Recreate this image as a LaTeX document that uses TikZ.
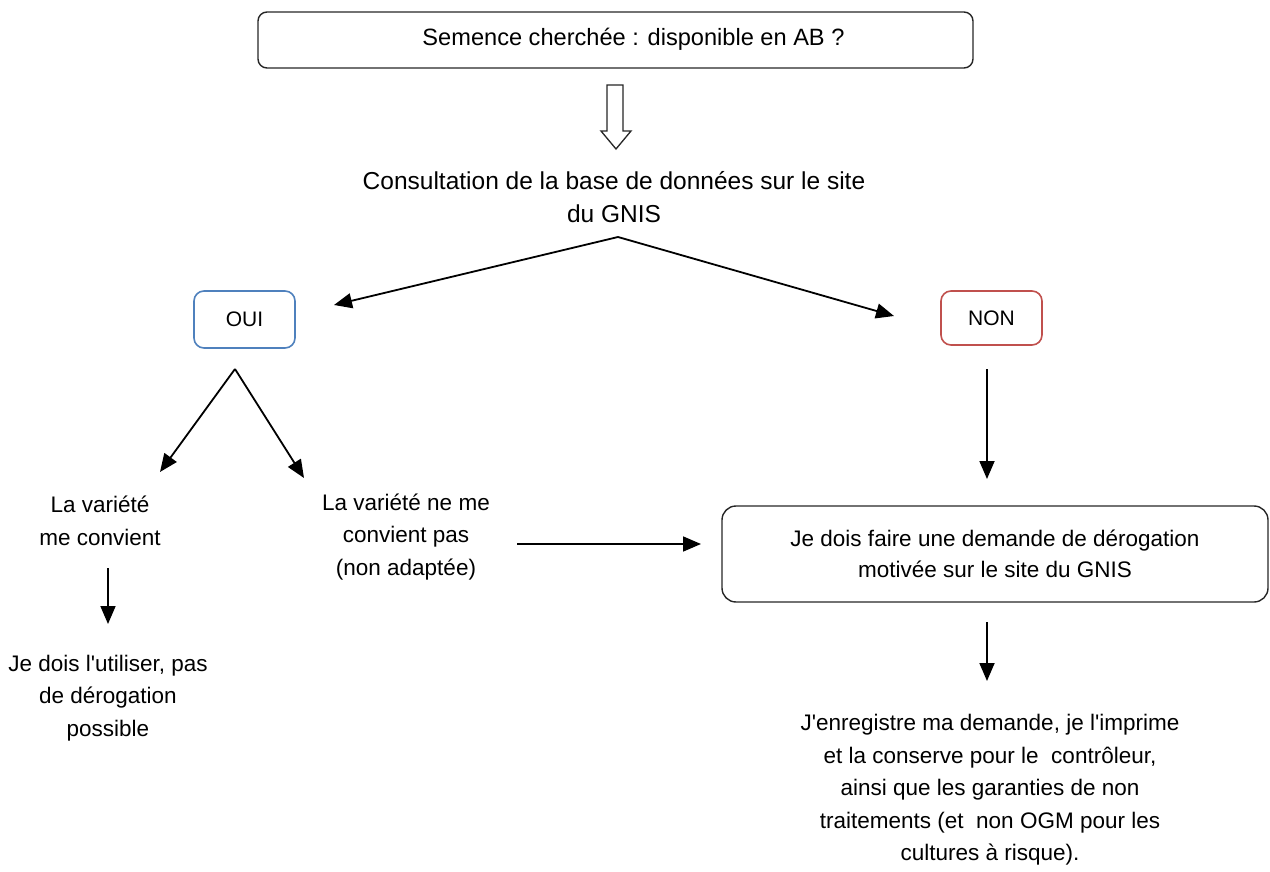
\documentclass[tikz,border=0pt]{standalone}
\usepackage{fontspec}
\setmainfont{Liberation Sans}
\usetikzlibrary{arrows.meta}
\definecolor{ouiblue}{HTML}{4F81BD}
\definecolor{nonred}{HTML}{C0504D}
\newcommand{\apos}{\textquotesingle}
\tikzset{
  txt/.style={align=center, inner sep=0pt, font=\fontsize{22.5}{32.5}\selectfont},
  bigtxt/.style={align=center, inner sep=0pt, font=\fontsize{24.5}{33}\selectfont},
  rbox/.style={draw=black!85, line width=1.4pt, rounded corners=9pt, align=center, inner sep=0pt, font=\fontsize{22.5}{31.5}\selectfont},
  smallbox/.style={line width=1.6pt, rounded corners=10pt, inner sep=0pt, font=\fontsize{21}{25}\selectfont},
  arr/.style={line width=1.8pt, -{Triangle[length=18pt,width=15pt]}},
  hollow/.style={draw=black!85, line width=1.3pt, fill=white}
}
\begin{document}
\begin{tikzpicture}[x=1pt,y=-1pt]
\useasboundingbox (0,0) rectangle (1270,872);

\node[rbox, minimum width=715pt, minimum height=56pt] (top) at (615.5,40) {};
\node[inner sep=0pt, font=\fontsize{23.6}{28}\selectfont] (toptext) at (633.5,39) {Semence cherchée : disponible en AB ?};
\node[bigtxt] (consult) at (614,197) {Consultation de la base de données sur le site\\du GNIS};

% hollow arrow
\draw[hollow] (607,85) -- (623,85) -- (623,131) -- (631,131) -- (616,149) -- (601,131) -- (607,131) -- cycle;

\node[smallbox, draw=ouiblue, minimum width=101pt, minimum height=57pt] (oui) at (244.5,319.5) {OUI};
\node[smallbox, draw=nonred, minimum width=101pt, minimum height=54pt] (non) at (991.5,318) {NON};

\coordinate (apex) at (618,237);
\coordinate (ouitip) at (334,305);
\coordinate (nontip) at (894,316);
\draw[arr] (apex) -- (ouitip);
\draw[arr] (apex) -- (nontip);

\node[txt] (var1) at (100,521) {La variété\\me convient};
\node[txt] (var2) at (406,537) {La variété ne me\\convient pas\\(non adaptée)};
\node[txt] (util) at (108,698) {Je dois l\apos utiliser, pas\\de dérogation\\possible};

\coordinate (vapex) at (235,369);
\coordinate (v1tip) at (160,472);
\coordinate (v2tip) at (304,478);
\draw[arr] (vapex) -- (v1tip);
\draw[arr] (vapex) -- (v2tip);

\coordinate (a1s) at (108,568);
\coordinate (a1e) at (108,624);
\draw[arr] (a1s) -- (a1e);

\node[rbox, minimum width=546pt, minimum height=96pt, rounded corners=14pt] (derog) at (995,554) {Je dois faire une demande de dérogation\\motivée sur le site du GNIS};

\coordinate (ns) at (987,369);
\coordinate (ne) at (987,479);
\draw[arr] (ns) -- (ne);

\coordinate (hs) at (517,544);
\coordinate (he) at (701,544);
\draw[arr] (hs) -- (he);

\coordinate (bs) at (987,622);
\coordinate (be) at (987,681);
\draw[arr] (bs) -- (be);

\node[txt] (final) at (990,790) {J\apos enregistre ma demande, je l\apos imprime\\et la conserve pour le\ \ contrôleur,\\ainsi que les garanties de non\\traitements (et\ \ non OGM pour les\\cultures à risque).};
\end{tikzpicture}
\end{document}
